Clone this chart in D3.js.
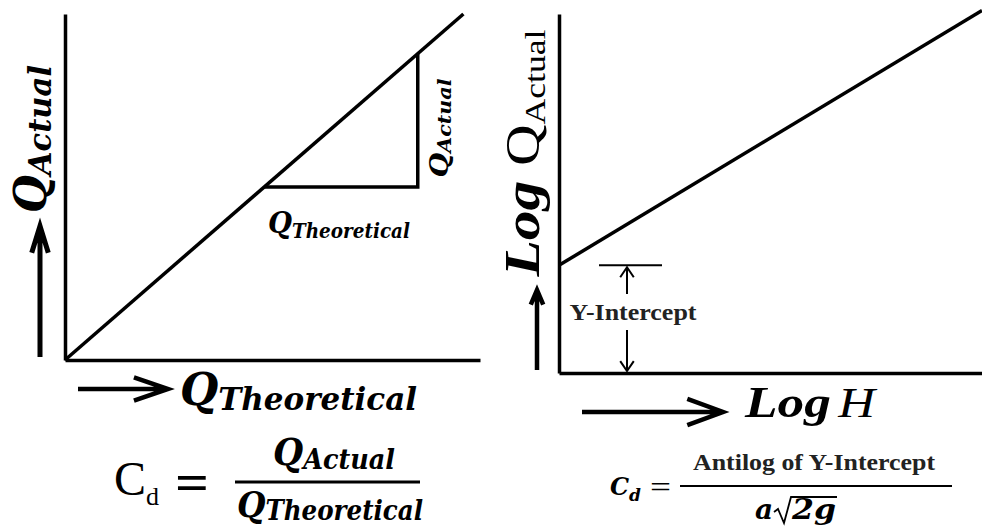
<!DOCTYPE html>
<html>
<head>
<meta charset="utf-8">
<script src="https://cdn.jsdelivr.net/npm/d3@7"></script>
<style>
  body { margin: 0; background: #fff; }
</style>
</head>
<body>
<div id="cd_vis"></div>
<script>
(function(){

    // Q_actual against Q_theoretical (straight line through origin)
    var leftLine = [{x: 0, y: 0}, {x: 9.6, y: 10}];
    // slope triangle: from run start to run end
    var stepRun = [4.8, 8.5];
    // log Q_actual against log H
    var rightLine = [{x: 0, y: 3.0}, {x: 10, y: 10.1}];
    var intercept = 3.0;

    var width = 982;
    var height = 530;

    var serif = '"Liberation Serif", "Times New Roman", serif';
    var cambria = '"DejaVu Serif", "Liberation Serif", serif';

    var svg = d3.select("#cd_vis")
        .append("svg")
            .attr("width", width)
            .attr("height", height)
            .attr("xmlns", "http://www.w3.org/2000/svg");

    svg.append('rect')
        .attr('width', width)
        .attr('height', height)
        .attr('fill', '#fff');

    var xLeft = d3.scaleLinear().domain([0, 10]).range([65, 480]);
    var yLeft = d3.scaleLinear().domain([0, 10]).range([360, 14]);
    var xRight = d3.scaleLinear().domain([0, 10]).range([559, 982]);
    var yRight = d3.scaleLinear().domain([0, 10]).range([373, 14]);

    function drawAxes(xs, ys) {
        var g = svg.append('g').attr('class', 'axes');
        g.append('g')
            .attr('transform', 'translate(0,' + ys(0) + ')')
            .call(d3.axisBottom(xs).ticks(0).tickSizeOuter(0));
        g.append('g')
            .attr('transform', 'translate(' + xs(0) + ',0)')
            .call(d3.axisLeft(ys).ticks(0).tickSizeOuter(0));
        g.selectAll('.domain')
            .attr('stroke', '#000')
            .attr('stroke-width', 3.5);
        return g;
    }

    drawAxes(xLeft, yLeft);
    drawAxes(xRight, yRight);

    var lineL = d3.line()
        .x(function(d){ return xLeft(d.x); })
        .y(function(d){ return yLeft(d.y); });
    var lineR = d3.line()
        .x(function(d){ return xRight(d.x); })
        .y(function(d){ return yRight(d.y); });

    svg.append('path')
        .datum(leftLine)
        .attr('d', lineL)
        .attr('fill', 'none')
        .attr('stroke', '#000')
        .attr('stroke-width', 3.5);

    // slope triangle built on the line
    var slope = leftLine[1].y / leftLine[1].x;
    var tri = [
        {x: stepRun[0], y: stepRun[0] * slope},
        {x: stepRun[1], y: stepRun[0] * slope},
        {x: stepRun[1], y: stepRun[1] * slope}
    ];
    svg.append('path')
        .datum(tri)
        .attr('d', lineL)
        .attr('fill', 'none')
        .attr('stroke', '#000')
        .attr('stroke-width', 3.5);

    svg.append('path')
        .datum(rightLine)
        .attr('d', lineR)
        .attr('fill', 'none')
        .attr('stroke', '#000')
        .attr('stroke-width', 3.5);

    // open-headed arrow
    function arrow(x1, y1, x2, y2, head, spread, sw) {
        var a = Math.atan2(y2 - y1, x2 - x1);
        var p1 = [x2 - head * Math.cos(a - spread), y2 - head * Math.sin(a - spread)];
        var p2 = [x2 - head * Math.cos(a + spread), y2 - head * Math.sin(a + spread)];
        svg.append('path')
            .attr('d', 'M' + x1 + ',' + y1 + 'L' + x2 + ',' + y2 +
                'M' + p1 + 'L' + x2 + ',' + y2 + 'L' + p2)
            .attr('fill', 'none')
            .attr('stroke', '#000')
            .attr('stroke-width', sw)
            .attr('stroke-linecap', 'butt');
    }

    arrow(40, 357, 40, 226, 28, 0.3, 5);
    arrow(78, 389, 168, 389, 36, 0.33, 4.5);
    arrow(537, 370, 537, 290, 16, 0.4, 4.5);
    arrow(582, 412, 723, 412, 38, 0.35, 4.5);

    // y-intercept marker
    var yi = yRight(intercept);
    svg.append('line')
        .attr('x1', 599).attr('x2', 662)
        .attr('y1', yi).attr('y2', yi)
        .attr('stroke', '#000').attr('stroke-width', 2);
    arrow(627, 294, 627, yi + 2, 12, 0.6, 2);
    arrow(627, 330, 627, yRight(0) - 2, 12, 0.6, 2);
    svg.append('text')
        .attr('x', 633).attr('y', 320)
        .attr('text-anchor', 'middle')
        .attr('font-family', serif)
        .attr('font-weight', 'bold')
        .attr('font-size', 24)
        .attr('fill', '#222')
        .attr('textLength', 127)
        .attr('lengthAdjust', 'spacingAndGlyphs')
        .text('Y-Intercept');

    // Q with subscript helper
    function qLabel(parent, opt) {
        var t = parent.append('text')
            .attr('x', opt.x).attr('y', opt.y)
            .attr('text-anchor', opt.anchor || 'start')
            .attr('font-family', opt.family || cambria)
            .attr('font-weight', opt.weight || 'bold')
            .attr('font-style', 'italic')
            .attr('fill', '#000');
        if (opt.transform) t.attr('transform', opt.transform);
        t.append('tspan')
            .attr('font-size', opt.big)
            .text(opt.main);
        t.append('tspan')
            .attr('font-size', opt.small)
            .attr('dy', opt.dy)
            .text(opt.sub);
        if (opt.len) t.attr('textLength', opt.len).attr('lengthAdjust', 'spacingAndGlyphs');
        return t;
    }

    // left y label
    qLabel(svg, {x: 0, y: 0, anchor: 'middle', big: 44, small: 31, dy: 5,
        main: 'Q', sub: 'Actual', len: 148,
        transform: 'translate(46,139) rotate(-90)'});

    // small rotated label on triangle
    qLabel(svg, {x: 0, y: 0, anchor: 'middle', big: 26, small: 19, dy: 3,
        main: 'Q', sub: 'Actual', len: 99,
        transform: 'translate(448,128) rotate(-90)'});

    // triangle run label
    qLabel(svg, {x: 268, y: 233, big: 30, small: 20, dy: 5,
        main: 'Q', sub: 'Theoretical', len: 142});

    // left x label
    qLabel(svg, {x: 180, y: 405, big: 44, small: 31, dy: 5,
        main: 'Q', sub: 'Theoretical', len: 237});

    // right y label
    var ry = svg.append('text')
        .attr('transform', 'translate(539,153) rotate(-90)')
        .attr('text-anchor', 'middle')
        .attr('font-family', serif)
        .attr('fill', '#000')
        .attr('textLength', 247)
        .attr('lengthAdjust', 'spacingAndGlyphs');
    ry.append('tspan')
        .attr('font-size', 50).attr('font-weight', 'bold').attr('font-style', 'italic')
        .text('Log ');
    ry.append('tspan')
        .attr('font-size', 48)
        .text('Q');
    ry.append('tspan')
        .attr('font-size', 30).attr('dy', 6)
        .text('Actual');

    // right x label
    var rx = svg.append('text')
        .attr('x', 745).attr('y', 417)
        .attr('font-family', serif)
        .attr('fill', '#000')
        .attr('textLength', 130)
        .attr('lengthAdjust', 'spacingAndGlyphs');
    rx.append('tspan')
        .attr('font-size', 44).attr('font-weight', 'bold').attr('font-style', 'italic')
        .text('Log');
    rx.append('tspan')
        .attr('font-size', 42).attr('font-style', 'italic')
        .attr('dx', 6)
        .text('H');

    // left formula
    var cl = svg.append('text')
        .attr('x', 114).attr('y', 495)
        .attr('font-family', serif)
        .attr('fill', '#000');
    cl.append('tspan').attr('font-size', 48).text('C');
    cl.append('tspan').attr('font-size', 26).attr('dy', 10).text('d');
    svg.append('text')
        .attr('x', 175).attr('y', 500)
        .attr('font-family', serif)
        .attr('font-weight', 'bold')
        .attr('font-size', 52)
        .attr('textLength', 34)
        .attr('lengthAdjust', 'spacingAndGlyphs')
        .text('=');
    svg.append('line')
        .attr('x1', 235).attr('x2', 420)
        .attr('y1', 482).attr('y2', 482)
        .attr('stroke', '#000').attr('stroke-width', 3);
    qLabel(svg, {x: 334, y: 465, anchor: 'middle', big: 38, small: 28, dy: 4,
        main: 'Q', sub: 'Actual', len: 122});
    qLabel(svg, {x: 330, y: 517, anchor: 'middle', big: 36, small: 27, dy: 3,
        main: 'Q', sub: 'Theoretical', len: 186});

    // right formula
    var cr = svg.append('text')
        .attr('x', 610).attr('y', 495)
        .attr('font-family', cambria)
        .attr('font-weight', 'bold').attr('font-style', 'italic')
        .attr('fill', '#000');
    cr.append('tspan').attr('font-size', 24).text('C');
    cr.append('tspan').attr('font-size', 17).attr('dy', 6).text('d');
    svg.append('text')
        .attr('x', 650).attr('y', 497)
        .attr('font-family', serif)
        .attr('font-size', 30)
        .attr('textLength', 21)
        .attr('lengthAdjust', 'spacingAndGlyphs')
        .text('=');
    svg.append('line')
        .attr('x1', 680).attr('x2', 952)
        .attr('y1', 486).attr('y2', 486)
        .attr('stroke', '#000').attr('stroke-width', 2);
    svg.append('text')
        .attr('x', 814).attr('y', 470)
        .attr('text-anchor', 'middle')
        .attr('font-family', serif)
        .attr('font-weight', 'bold')
        .attr('font-size', 23)
        .attr('fill', '#222')
        .attr('textLength', 242)
        .attr('lengthAdjust', 'spacingAndGlyphs')
        .text('Antilog of Y-Intercept');
    svg.append('text')
        .attr('x', 755).attr('y', 519)
        .attr('font-family', cambria)
        .attr('font-weight', 'bold').attr('font-style', 'italic')
        .attr('font-size', 28)
        .text('a');
    svg.append('path')
        .attr('d', 'M774,512 L778,509 L784,523 L791,497 L837,497')
        .attr('fill', 'none')
        .attr('stroke', '#000')
        .attr('stroke-width', 1.8);
    svg.append('text')
        .attr('x', 792).attr('y', 519)
        .attr('font-family', cambria)
        .attr('font-weight', 'bold').attr('font-style', 'italic')
        .attr('font-size', 28)
        .attr('textLength', 44)
        .attr('lengthAdjust', 'spacingAndGlyphs')
        .text('2g');

})();
</script>
</body>
</html>
